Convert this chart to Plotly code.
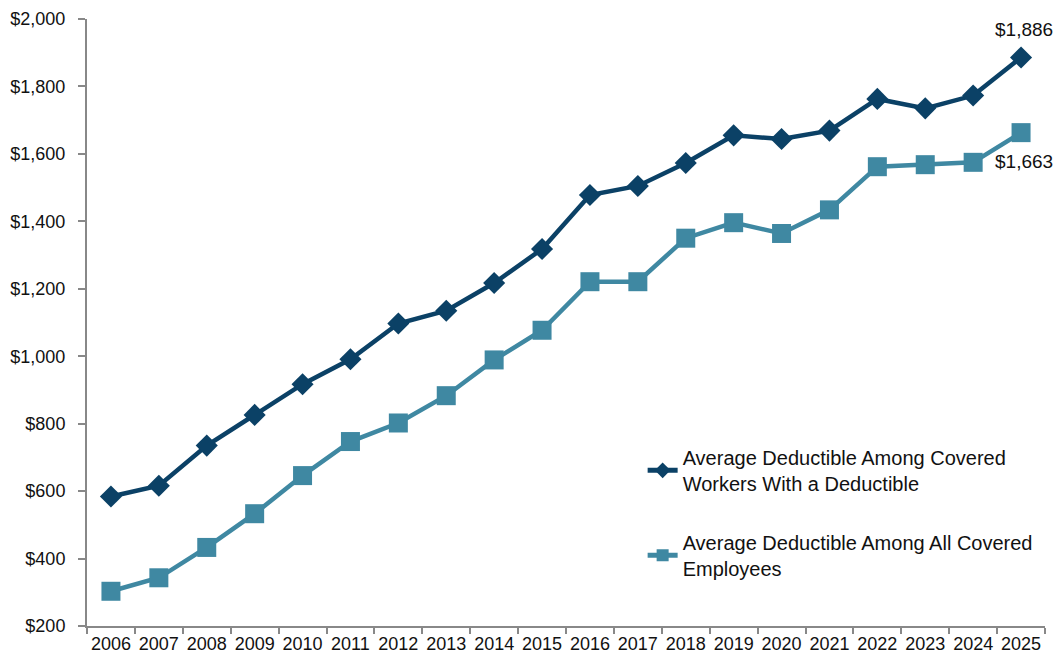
import plotly.graph_objects as go

years = [str(y) for y in range(2006, 2026)]
with_deductible = [584, 616, 735, 826, 917, 991, 1097, 1135, 1217, 1318,
                   1478, 1505, 1573, 1655, 1644, 1669, 1763, 1735, 1773, 1886]
all_covered = [303, 343, 433, 533, 646, 747, 802, 883, 989, 1077,
               1221, 1221, 1350, 1396, 1364, 1434, 1562, 1568, 1575, 1663]
y_ticks = [200, 400, 600, 800, 1000, 1200, 1400, 1600, 1800, 2000]
y_tick_labels = ["$200", "$400", "$600", "$800", "$1,000", "$1,200", "$1,400",
                 "$1,600", "$1,800", "$2,000"]

dark = "#0b4166"
teal = "#3f88a2"
font = "Liberation Sans, Arial, sans-serif"

fig = go.Figure()
fig.add_trace(go.Scatter(
    x=years, y=with_deductible, mode="lines+markers",
    name="Average Deductible Among Covered<br>Workers With a Deductible",
    line=dict(color=dark, width=4.5),
    marker=dict(symbol="diamond", size=17, color=dark),
    legendgroup="a",
))
fig.add_trace(go.Scatter(
    x=years, y=all_covered, mode="lines+markers",
    name="Average Deductible Among All Covered<br>Employees",
    line=dict(color=teal, width=4.5),
    marker=dict(symbol="square", size=19, color=teal),
    legendgroup="b",
))

last = len(years) - 1
fig.add_annotation(x=last, y=with_deductible[-1], text="$1,886",
                   showarrow=False, yshift=28, xshift=3,
                   font=dict(family=font, size=19, color="#111111"))
fig.add_annotation(x=last, y=all_covered[-1], text="$1,663",
                   showarrow=False, yshift=-29, xshift=3,
                   font=dict(family=font, size=19, color="#111111"))

fig.update_layout(
    width=1059, height=655,
    margin=dict(l=87, r=14, t=19, b=29),
    paper_bgcolor="white", plot_bgcolor="white",
    font=dict(family=font, size=18, color="#111111"),
    showlegend=True,
    legend=dict(x=0.58, y=0.31, xanchor="left", yanchor="top",
                font=dict(family=font, size=20, color="#111111"),
                tracegroupgap=30, traceorder="grouped", itemsizing="constant",
                bgcolor="rgba(0,0,0,0)"),
    xaxis=dict(type="category", range=[-0.5, 19.5], showline=True,
               linecolor="#888888", linewidth=2, ticks="outside",
               tickcolor="#888888", ticklen=6, tickwidth=2, tickangle=0,
               tickson="boundaries", showgrid=False, zeroline=False,
               automargin=False, tickfont=dict(size=18)),
    yaxis=dict(range=[200, 2000], tickvals=y_ticks, ticktext=y_tick_labels,
               showline=True, linecolor="#888888", linewidth=2,
               ticks="outside", tickcolor="#888888", ticklen=7, tickwidth=2,
               ticklabelstandoff=9,
               showgrid=False, zeroline=False, automargin=False,
               tickfont=dict(size=18)),
)

fig.write_html("out.html")
